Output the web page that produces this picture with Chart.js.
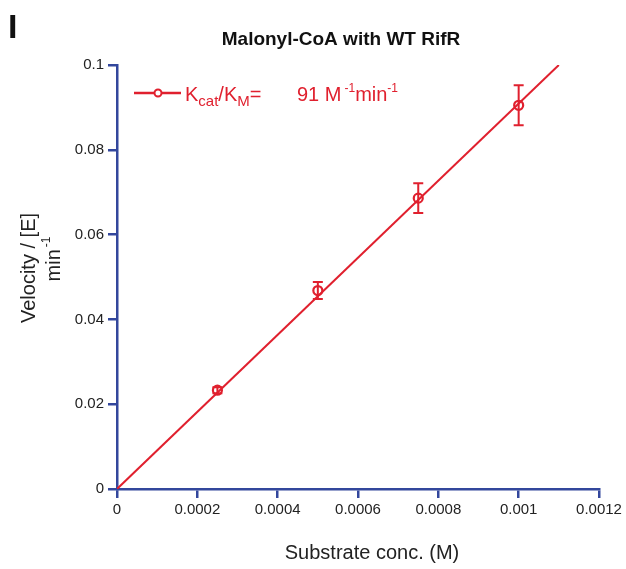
<!DOCTYPE html>
<html>
<head>
<meta charset="utf-8">
<script src="https://cdn.jsdelivr.net/npm/chart.js@4"></script>
<style>
body { margin: 0; background: #fff; }
#wrap { width: 626px; height: 569px; position: relative; }
</style>
</head>
<body>
<div id="wrap"><canvas id="c"></canvas></div>
<script>
// measured points
const substrate = [0.00025, 0.0005, 0.00075, 0.001];
const velocity = [0.0233, 0.0468, 0.0686, 0.0905];
const velocityErr = [0.0007, 0.002, 0.0035, 0.0047];
// linear fit, kcat/KM = 91 M-1 min-1
const fitX = [0, 0.0011];
const fitY = [0, 0.1];
const xTicks = [0, 0.0002, 0.0004, 0.0006, 0.0008, 0.001, 0.0012];
const yTicks = [0, 0.02, 0.04, 0.06, 0.08, 0.1];

const RED = '#e0202e';
const BLUE = '#33479c';
const FONT = '"Liberation Sans", Arial, sans-serif';

const errorBars = {
  id: 'errorBars',
  afterDatasetsDraw(chart) {
    const { ctx, scales: { x, y } } = chart;
    ctx.save();
    ctx.strokeStyle = RED;
    ctx.lineWidth = 2;
    substrate.forEach((sx, i) => {
      const px = x.getPixelForValue(sx);
      const top = y.getPixelForValue(velocity[i] + velocityErr[i]);
      const bot = y.getPixelForValue(velocity[i] - velocityErr[i]);
      ctx.beginPath();
      ctx.moveTo(px, top); ctx.lineTo(px, bot);
      ctx.moveTo(px - 5, top); ctx.lineTo(px + 5, top);
      ctx.moveTo(px - 5, bot); ctx.lineTo(px + 5, bot);
      ctx.stroke();
    });
    ctx.restore();
  }
};

const labels = {
  id: 'labels',
  afterDraw(chart) {
    const { ctx } = chart;
    ctx.save();
    ctx.fillStyle = '#111';
    // panel letter
    ctx.font = 'bold 34px ' + FONT;
    ctx.textBaseline = 'alphabetic';
    ctx.textAlign = 'left';
    ctx.fillText('I', 8, 38);
    // title
    ctx.font = 'bold 19px ' + FONT;
    ctx.textAlign = 'center';
    ctx.fillText('Malonyl-CoA with WT RifR', 341, 45);
    // x title
    ctx.fillStyle = '#222';
    ctx.font = '20px ' + FONT;
    ctx.fillText('Substrate conc. (M)', 372, 559);
    // y title
    ctx.save();
    ctx.translate(35, 268);
    ctx.rotate(-Math.PI / 2);
    ctx.textAlign = 'center';
    ctx.font = '20px ' + FONT;
    ctx.fillText('Velocity / [E]', 0, 0);
    const mw = ctx.measureText('min').width;
    ctx.font = '12px ' + FONT;
    const sw = ctx.measureText('-1').width;
    const start = 8 - (mw + sw) / 2;
    ctx.textAlign = 'left';
    ctx.font = '20px ' + FONT;
    ctx.fillText('min', start, 25);
    ctx.font = '12px ' + FONT;
    ctx.fillText('-1', start + mw + 2, 15);
    ctx.restore();

    // legend
    const ly = 93;
    ctx.strokeStyle = RED;
    ctx.lineWidth = 2.5;
    ctx.beginPath();
    ctx.moveTo(134, ly); ctx.lineTo(181, ly);
    ctx.stroke();
    ctx.fillStyle = '#fff';
    ctx.lineWidth = 2;
    ctx.beginPath();
    ctx.arc(158, ly, 3.5, 0, Math.PI * 2);
    ctx.fill(); ctx.stroke();

    ctx.fillStyle = RED;
    ctx.textAlign = 'left';
    let cx = 185;
    const base = 101;
    const part = (t, size, dy) => {
      ctx.font = size + 'px ' + FONT;
      ctx.fillText(t, cx, base + dy);
      cx += ctx.measureText(t).width;
    };
    part('K', 20, 0);
    part('cat', 15, 5);
    part('/K', 20, 0);
    part('M', 15, 5);
    part('=', 20, 0);
    cx = 297;
    part('91 M', 20, 0);
    cx += 3;
    part('-1', 12, -9);
    part('min', 20, 0);
    part('-1', 12, -9);
    ctx.restore();
  }
};

new Chart(document.getElementById('c'), {
  type: 'scatter',
  data: {
    datasets: [
      {
        label: 'fit',
        type: 'line',
        data: fitX.map((v, i) => ({ x: v, y: fitY[i] })),
        borderColor: RED,
        borderWidth: 2,
        pointRadius: 0,
        fill: false
      },
      {
        label: 'data',
        data: substrate.map((v, i) => ({ x: v, y: velocity[i] })),
        borderColor: RED,
        backgroundColor: 'rgba(255,255,255,0)',
        pointRadius: 4.5,
        pointBorderWidth: 2.2
      }
    ]
  },
  options: {
    responsive: true,
    maintainAspectRatio: false,
    animation: false,
    layout: { padding: { left: 0, right: 27, top: 65, bottom: 0 } },
    plugins: { legend: { display: false }, tooltip: { enabled: false } },
    scales: {
      x: {
        type: 'linear',
        min: 0,
        max: 0.0012,
        afterBuildTicks: (s) => { s.ticks = xTicks.map(v => ({ value: v })); },
        afterFit: (s) => { s.height = 80; },
        border: { display: true, color: BLUE, width: 2.5 },
        grid: { drawOnChartArea: false, drawTicks: true, tickLength: 9, color: BLUE, lineWidth: 2.5 },
        ticks: {
          color: '#222',
          padding: 3,
          maxRotation: 0,
          font: { family: FONT, size: 15 },
          callback: (v) => String(+v.toFixed(4))
        }
      },
      y: {
        type: 'linear',
        min: 0,
        max: 0.1,
        afterBuildTicks: (s) => { s.ticks = yTicks.map(v => ({ value: v })); },
        afterFit: (s) => { s.width = 117; },
        border: { display: true, color: BLUE, width: 2.5 },
        grid: { drawOnChartArea: false, drawTicks: true, tickLength: 9, color: BLUE, lineWidth: 2.5 },
        ticks: {
          color: '#222',
          padding: 4,
          font: { family: FONT, size: 15 },
          callback: (v) => String(+v.toFixed(4))
        }
      }
    }
  },
  plugins: [errorBars, labels]
});
</script>
</body>
</html>
